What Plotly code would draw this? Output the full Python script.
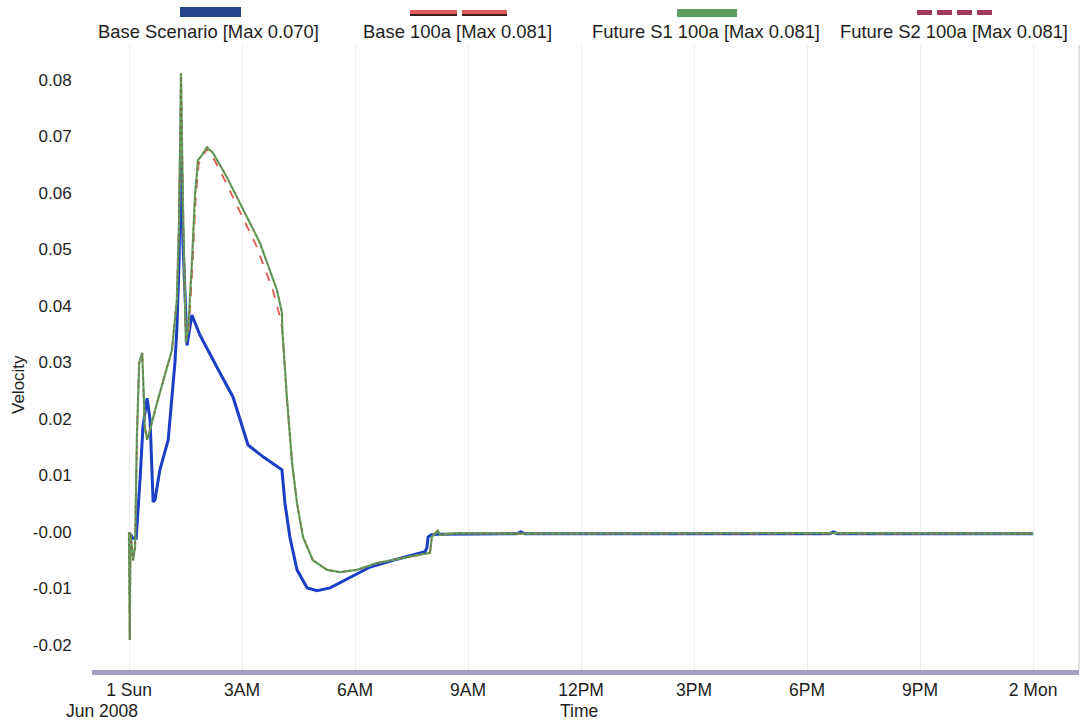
import pandas as pd
import plotly.graph_objects as go

# ---- data: hours after 2008-06-01 00:00 and velocity ----
base_t = [0.00, 0.05, 0.10, 0.19, 0.30, 0.37, 0.48, 0.56, 0.64, 0.69, 0.82, 1.04,
          1.22, 1.27, 1.33, 1.38, 1.43, 1.49, 1.54, 1.67, 1.88, 2.42, 2.76, 3.16,
          3.56, 4.06, 4.14, 4.27, 4.46, 4.73, 4.99, 5.34, 5.87, 6.40, 7.01, 7.86,
          7.91, 7.94, 8.02, 8.12, 8.20, 10.30, 10.40, 10.50, 18.60, 18.70, 18.80, 24.00]
base_v = [-0.0002, -0.0005, -0.0011, -0.0011, 0.0100, 0.0186, 0.0237, 0.0198, 0.0053,
          0.0057, 0.0110, 0.0163, 0.0300, 0.0358, 0.0480, 0.0700, 0.0517, 0.0410,
          0.0330, 0.0384, 0.0349, 0.0281, 0.0239, 0.0154, 0.0133, 0.0110, 0.0051,
          -0.0009, -0.0067, -0.0099, -0.0104, -0.0099, -0.0081, -0.0062, -0.0050,
          -0.0035, -0.0027, -0.0009, -0.0005, -0.0005, -0.0004, -0.0003, 0.0000,
          -0.0003, -0.0003, 0.0000, -0.0003, -0.0003]

b100_t = [0.00, 0.02, 0.04, 0.11, 0.16, 0.21, 0.27, 0.35, 0.37, 0.42, 0.48, 0.56,
          0.74, 0.96, 1.14, 1.27, 1.33, 1.38, 1.43, 1.51, 1.59, 1.69, 1.77, 1.85,
          1.96, 2.07, 2.19, 2.52, 2.93, 3.37, 3.82, 4.01, 4.07, 4.19, 4.33, 4.46,
          4.62, 4.88, 5.26, 5.60, 6.05, 6.58, 7.27, 7.99, 8.04, 8.20, 8.26, 8.71,
          10.40, 18.60, 24.00]
b100_v = [0.0000, -0.0191, -0.0002, -0.0050, -0.0027, 0.0168, 0.0299, 0.0317, 0.0281,
          0.0186, 0.0163, 0.0181, 0.0228, 0.0281, 0.0322, 0.0411, 0.0552, 0.0812,
          0.0588, 0.0335, 0.0358, 0.0476, 0.0590, 0.0652, 0.0664, 0.0679, 0.0668,
          0.0626, 0.0568, 0.0508, 0.0428, 0.0380, 0.0358, 0.0239, 0.0122, 0.0051,
          -0.0009, -0.0050, -0.0067, -0.0071, -0.0067, -0.0055, -0.0046, -0.0037,
          -0.0009, 0.0004, -0.0005, -0.0002, -0.0003, -0.0003, -0.0003]

s1_t = [0.00, 0.02, 0.04, 0.11, 0.16, 0.21, 0.27, 0.35, 0.37, 0.42, 0.48, 0.56,
        0.74, 0.96, 1.14, 1.27, 1.33, 1.38, 1.43, 1.51, 1.57, 1.67, 1.75, 1.83,
        1.94, 2.07, 2.23, 2.60, 3.03, 3.48, 3.93, 4.06, 4.07, 4.19, 4.33, 4.46,
        4.62, 4.88, 5.26, 5.60, 6.05, 6.58, 7.27, 7.99, 8.04, 8.20, 8.26, 8.71,
        10.40, 18.60, 24.00]
s1_v = [0.0000, -0.0191, -0.0002, -0.0050, -0.0027, 0.0168, 0.0299, 0.0317, 0.0281,
        0.0186, 0.0163, 0.0181, 0.0228, 0.0281, 0.0322, 0.0411, 0.0552, 0.0812,
        0.0588, 0.0335, 0.0358, 0.0476, 0.0593, 0.0658, 0.0667, 0.0681, 0.0671,
        0.0628, 0.0570, 0.0511, 0.0428, 0.0388, 0.0358, 0.0239, 0.0122, 0.0051,
        -0.0009, -0.0050, -0.0067, -0.0071, -0.0067, -0.0055, -0.0046, -0.0037,
        -0.0009, 0.0002, -0.0005, -0.0002, -0.0003, -0.0002, -0.0003]

s2_t = [0.00, 0.02, 0.04, 0.11, 0.16, 0.21, 0.27, 0.35, 0.37, 0.42, 0.48, 0.56,
        0.74, 0.96, 1.14, 1.27, 1.33, 1.38, 1.43, 1.51, 1.57, 1.67, 1.75, 1.83,
        1.94, 2.07, 2.23, 2.60, 3.03, 3.48, 3.93, 4.06, 4.07, 4.19, 4.33, 4.46,
        4.62, 4.88, 5.26, 5.60, 6.05, 6.58, 7.27, 7.99, 8.04, 8.20, 8.26, 8.71,
        10.40, 18.60, 24.00]
s2_v = [0.0000, -0.0191, -0.0002, -0.0050, -0.0027, 0.0168, 0.0299, 0.0317, 0.0281,
        0.0186, 0.0163, 0.0181, 0.0228, 0.0281, 0.0322, 0.0411, 0.0552, 0.0812,
        0.0588, 0.0335, 0.0358, 0.0476, 0.0593, 0.0658, 0.0667, 0.0681, 0.0671,
        0.0628, 0.0570, 0.0511, 0.0428, 0.0388, 0.0358, 0.0239, 0.0122, 0.0051,
        -0.0009, -0.0050, -0.0067, -0.0071, -0.0067, -0.0055, -0.0046, -0.0037,
        -0.0009, 0.0002, -0.0005, -0.0002, -0.0003, -0.0002, -0.0003]

series_names = ["Base Scenario [Max 0.070]", "Base 100a [Max 0.081]",
                "Future S1 100a [Max 0.081]", "Future S2 100a [Max 0.081]"]
tick_hours = [0, 3, 6, 9, 12, 15, 18, 21, 24]
tick_labels = ["1 Sun", "3AM", "6AM", "9AM", "12PM", "3PM", "6PM", "9PM", "2 Mon"]
y_ticks = [0.08, 0.07, 0.06, 0.05, 0.04, 0.03, 0.02, 0.01, 0.0, -0.01, -0.02]
y_tick_labels = ["0.08", "0.07", "0.06", "0.05", "0.04", "0.03", "0.02", "0.01",
                 "-0.00", "-0.01", "-0.02"]

START = pd.Timestamp("2008-06-01 00:00")


def to_time(hours):
    return START + pd.to_timedelta(hours, unit="h")


# ---- page geometry (pixels) ----
W, H = 1081, 723
PL, PR, PT, PB = 92, 1079, 45, 670


def px(x):
    return (x - PL) / (PR - PL)


def py(y):
    return (PB - y) / (PB - PT)


FONT = "Liberation Sans, Arial, sans-serif"
TXT = "#1e1e1e"
BLUE = "#1a3ec4"
RED = "#e0584c"
GREEN = "#62a45a"
MAROON = "#8c3a5c"

fig = go.Figure()
# base scenario sits underneath; the 100a runs are drawn over it
fig.add_trace(go.Scatter(x=to_time(base_t), y=base_v, mode="lines", name=series_names[0],
                         line=dict(color=BLUE, width=3)))
fig.add_trace(go.Scatter(x=to_time(b100_t), y=b100_v, mode="lines", name=series_names[1],
                         line=dict(color=RED, width=1.8, dash="dash")))
fig.add_trace(go.Scatter(x=to_time(s1_t), y=s1_v, mode="lines", name=series_names[2],
                         line=dict(color=GREEN, width=2.2)))
fig.add_trace(go.Scatter(x=to_time(s2_t), y=s2_v, mode="lines", name=series_names[3],
                         line=dict(color=MAROON, width=1, dash="dot"), opacity=0.6))

x_left = (PL - 129) / 37.67
x_right = (PR - 129) / 37.67
y_lo = (532 - PB) / 5650
y_hi = (532 - PT) / 5650

fig.update_layout(
    width=W, height=H,
    margin=dict(l=PL, r=W - PR, t=PT, b=H - PB),
    paper_bgcolor="white", plot_bgcolor="white",
    showlegend=False,
    font=dict(family=FONT, size=17, color=TXT),
    xaxis=dict(
        range=[to_time(x_left), to_time(x_right)],
        tickmode="array", tickvals=to_time(tick_hours), ticktext=tick_labels,
        showgrid=True, gridcolor="#eeeeee", gridwidth=1,
        showline=True, linecolor="#a2a2c0", linewidth=5,
        ticks="", zeroline=False,
        tickfont=dict(family=FONT, size=17.5, color=TXT),
    ),
    yaxis=dict(
        range=[y_lo, y_hi],
        tickmode="array", tickvals=y_ticks, ticktext=y_tick_labels,
        showgrid=False, zeroline=False, showline=False,
        ticks="outside", ticklen=16, tickcolor="rgba(0,0,0,0)",
        tickfont=dict(family=FONT, size=17, color=TXT),
    ),
)

annotations = [
    dict(text="Velocity", x=px(18), y=py(385), textangle=-90, size=17),
    dict(text="Jun 2008", x=px(102), y=py(711), size=17.5),
    dict(text="Time", x=px(579), y=py(711), size=17.5),
]
legend_centers = [208, 457, 706, 954]
for name, cx in zip(series_names, legend_centers):
    annotations.append(dict(text=name, x=px(cx), y=py(31), size=18.4))
for a in annotations:
    size = a.pop("size")
    a.update(xref="paper", yref="paper", showarrow=False, xanchor="center",
             yanchor="middle", font=dict(family=FONT, size=size, color=TXT))
fig.update_layout(annotations=annotations)


def rect(x0, x1, y0, y1, color):
    return dict(type="rect", xref="paper", yref="paper",
                x0=px(x0), x1=px(x1), y0=py(y1), y1=py(y0),
                fillcolor=color, line=dict(width=0), layer="above")


shapes = [
    # right frame edge
    dict(type="line", xref="paper", yref="paper", x0=1, x1=1, y0=0, y1=1,
         line=dict(color="#c4c4c4", width=1)),
    # legend swatches
    rect(180, 241, 7, 17, "#25468f"),
    rect(410, 457, 13, 16, "#3a2020"),
    rect(410, 457, 10, 14, "#e05a58"),
    rect(462, 507, 13, 16, "#3a2020"),
    rect(462, 507, 10, 14, "#e05a58"),
    rect(677, 737, 9, 17, "#5c9e60"),
]
for x0 in (917, 937, 957, 977):
    shapes.append(rect(x0, x0 + 15, 10, 15, "#a0385a"))
fig.update_layout(shapes=shapes)

fig.write_html("out.html")
